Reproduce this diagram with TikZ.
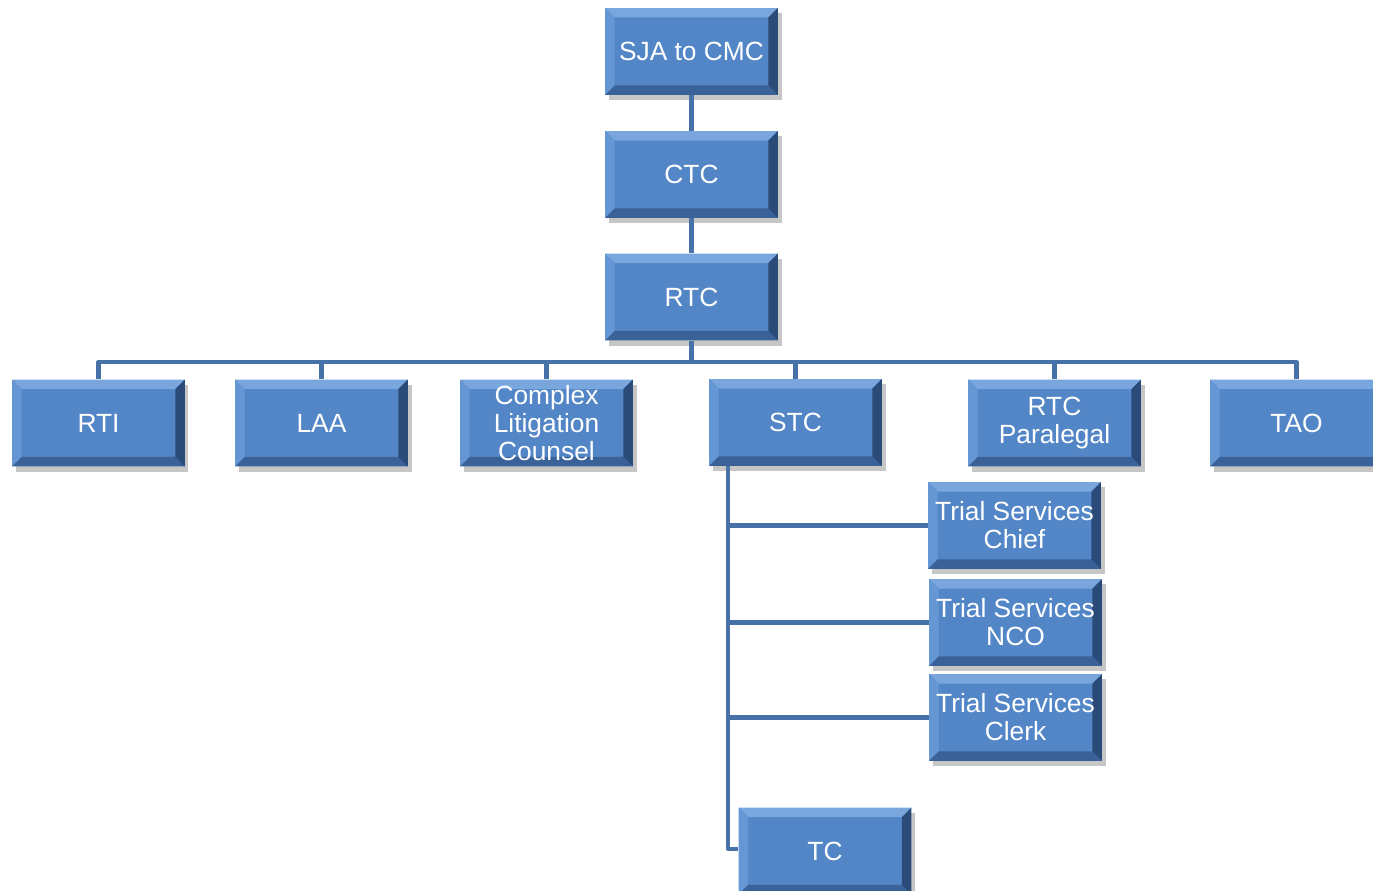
\documentclass[tikz,border=0pt]{standalone}
\usepackage{fontspec}
\setmainfont{Liberation Sans}
\usetikzlibrary{shadows}

\definecolor{boxblue}{RGB}{83,134,199}
\definecolor{bevtop}{RGB}{122,166,222}
\definecolor{bevleft}{RGB}{101,151,212}
\definecolor{bevbot}{RGB}{58,98,152}
\definecolor{bevright}{RGB}{42,74,120}
\definecolor{linkblue}{RGB}{70,114,168}

\tikzstyle{orgchart}=[x=0.02cm,y=-0.02cm]
\tikzstyle{link}=[line width=2.3pt,color=linkblue,line join=round]
\tikzstyle{orgbox}=[rectangle,fill=boxblue,text=white,align=center,
  font=\fontsize{15}{16}\selectfont,inner sep=0pt,
  minimum width=3.46cm,minimum height=1.74cm,
  drop shadow={opacity=0.45,shadow xshift=2pt,shadow yshift=-3pt},
  path picture={
    \fill[bevtop] (path picture bounding box.north west) -- (path picture bounding box.north east)
      -- ([shift={(-0.19cm,-0.19cm)}]path picture bounding box.north east)
      -- ([shift={(0.19cm,-0.19cm)}]path picture bounding box.north west) -- cycle;
    \fill[bevleft] (path picture bounding box.north west) -- (path picture bounding box.south west)
      -- ([shift={(0.19cm,0.19cm)}]path picture bounding box.south west)
      -- ([shift={(0.19cm,-0.19cm)}]path picture bounding box.north west) -- cycle;
    \fill[bevbot] (path picture bounding box.south west) -- (path picture bounding box.south east)
      -- ([shift={(-0.19cm,0.19cm)}]path picture bounding box.south east)
      -- ([shift={(0.19cm,0.19cm)}]path picture bounding box.south west) -- cycle;
    \fill[bevright] (path picture bounding box.north east) -- (path picture bounding box.south east)
      -- ([shift={(-0.19cm,0.19cm)}]path picture bounding box.south east)
      -- ([shift={(-0.19cm,-0.19cm)}]path picture bounding box.north east) -- cycle;
  }]

\begin{document}
\begin{tikzpicture}[style=orgchart]
\useasboundingbox (0,0) rectangle (1373,891);

% top of the chain
\node[orgbox] (sja) at (691.5,51.5) {SJA to CMC};
\node[orgbox] (ctc) at (691.5,174.5) {CTC};
\node[orgbox] (rtc) at (691.5,297) {RTC};

% second row
\node[orgbox] (rti) at (98.5,423) {RTI};
\node[orgbox] (laa) at (321.5,423) {LAA};
\node[orgbox] (clc) at (546.5,423) {Complex\\Litigation\\Counsel};
\node[orgbox] (stc) at (795.5,422.5) {STC};
\node[orgbox] (rtcp) at (1054.5,423) {RTC\\Paralegal};
\node[orgbox] (tao) at (1296.5,423) {TAO};

% under STC
\node[orgbox] (tsc) at (1014.5,525.5) {Trial Services\\Chief};
\node[orgbox] (tsn) at (1015.5,622.5) {Trial Services\\NCO};
\node[orgbox] (tsk) at (1015.5,717.5) {Trial Services\\Clerk};
\node[orgbox] (tc) at (825,851) {TC};

\begin{scope}[on background layer/.try]
\draw[link] (sja.south) -- (ctc.north);
\draw[link] (ctc.south) -- (rtc.north);
\coordinate (bus) at (691.5,362);
\foreach \n in {rti,laa,clc,stc,rtcp,tao}
  \draw[link] (rtc.south) -- (bus) -| (\n.north);
\coordinate (stcleg) at (728,466);
\foreach \n in {tsc,tsn,tsk}
  \draw[link] (stcleg) |- (\n.west);
\draw[link] (stcleg) |- ([yshift=0.04cm]tc.west);
\end{scope}
\end{tikzpicture}
\end{document}
